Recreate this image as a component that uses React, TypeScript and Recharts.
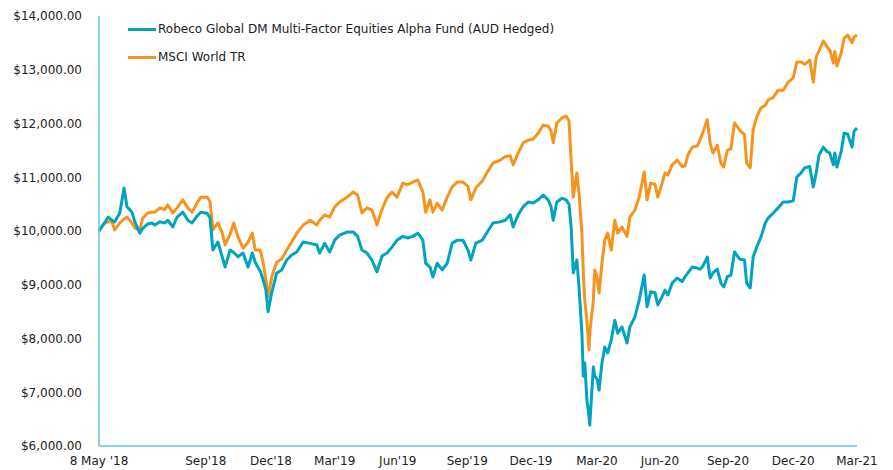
import React from 'react';
import { LineChart, Line, XAxis, YAxis, Legend } from 'recharts';

// days since 8 May 2018
const days = [
  0, 6, 13, 18, 22, 29, 35, 39, 46, 50,
  57, 61, 68, 74, 78, 85, 92, 96, 103, 109,
  117, 124, 130, 137, 142, 151, 155, 159, 166, 172,
  176, 183, 188, 194, 201, 208, 214, 218, 225, 229,
  233, 236, 241, 248, 255, 262, 269, 276, 285, 295,
  304, 308, 315, 322, 329, 336, 346, 355, 361, 367,
  374, 381, 388, 395, 402, 409, 416, 424, 431, 438,
  445, 452, 456, 462, 466, 472, 479, 486, 493, 500,
  508, 515, 519, 526, 535, 542, 550, 560, 567, 574,
  578, 585, 592, 599, 606, 613, 620, 627, 631, 634,
  639, 646, 652, 656, 659, 662, 667, 670, 674, 676,
  678, 681, 684, 685, 690, 692, 695, 698, 702, 706,
  710, 715, 720, 724, 730, 737, 741, 748, 754, 761,
  765, 770, 776, 780, 786, 790, 794, 800, 807, 814,
  818, 822, 828, 835, 839, 843, 849, 853, 857, 863,
  868, 872, 877, 882, 887, 894, 901, 904, 909, 913,
  918, 924, 930, 934, 941, 948, 955, 962, 969, 974,
  980, 985, 992, 997, 1001, 1005, 1011, 1016, 1020, 1025,
  1027, 1030, 1036, 1040, 1045, 1051, 1054, 1058,
];

const fund = [
  10000, 10120, 10260, 10200, 10170, 10335, 10800, 10450, 10350, 10170,
  9960, 10050, 10130, 10150, 10110, 10170, 10150, 10200, 10075, 10260,
  10350, 10200, 10150, 10280, 10350, 10330, 10240, 9645, 9795, 9520,
  9330, 9645, 9600, 9520, 9590, 9330, 9590, 9420, 9250, 9100,
  8900, 8500, 8850, 9220, 9275, 9460, 9555, 9610, 9795, 9770,
  9740, 9590, 9770, 9610, 9830, 9925, 9980, 9980, 9900, 9645,
  9590, 9460, 9240, 9535, 9590, 9700, 9830, 9900, 9870, 9900,
  9960, 9830, 9400, 9330, 9145, 9400, 9275, 9400, 9775, 9830,
  9830, 9645, 9460, 9775, 9830, 9980, 10150, 10170, 10200, 10300,
  10075, 10300, 10450, 10540, 10520, 10580, 10670, 10580, 10450, 10200,
  10540, 10610, 10580, 10500, 10075, 9220, 9460, 8960, 8100, 7300,
  7545, 6860, 6550, 6390, 7470, 7300, 7250, 7040, 7545, 7840,
  7730, 7975, 8340, 8100, 8215, 7915, 8215, 8400, 8715, 9180,
  8590, 8870, 8850, 8625, 8780, 8900, 8810, 9030, 9125, 9060,
  9150, 9220, 9330, 9310, 9290, 9350, 9515, 9125, 9220, 9290,
  9030, 8960, 9150, 9180, 9610, 9480, 9460, 9030, 8940, 9515,
  9700, 9890, 10150, 10240, 10335, 10430, 10540, 10540, 10560, 11005,
  11080, 11175, 11200, 10820, 11080, 11415, 11560, 11480, 11450, 11230,
  11450, 11190, 11480, 11820, 11800, 11560, 11860, 11915,
];

const msci = [
  10000, 10130, 10170, 10170, 10020, 10150, 10220, 10260, 10150, 10055,
  10020, 10240, 10335, 10350, 10350, 10430, 10400, 10485, 10335, 10430,
  10580, 10430, 10350, 10520, 10630, 10630, 10545, 10020, 10150, 9960,
  9740, 9940, 10150, 9890, 9680, 9790, 9960, 9645, 9645, 9420,
  9090, 8775, 9145, 9420, 9480, 9645, 9795, 9960, 10110, 10200,
  10110, 10200, 10300, 10260, 10450, 10540, 10630, 10725, 10670, 10335,
  10430, 10390, 10110, 10400, 10620, 10725, 10630, 10890, 10860, 10910,
  10950, 10725, 10350, 10580, 10350, 10520, 10390, 10630, 10820, 10910,
  10910, 10830, 10580, 10800, 10930, 11100, 11265, 11320, 11380, 11400,
  11230, 11450, 11640, 11690, 11710, 11820, 11970, 11950, 11860, 11640,
  12010, 12100, 12140, 12050, 11320, 10630, 11080, 10710, 9960, 9220,
  8715, 8340, 7785, 8100, 8715, 9275, 9145, 8850, 9400, 9830,
  9960, 9645, 10200, 9960, 10075, 9900, 10260, 10390, 10630, 11100,
  10580, 10890, 10870, 10630, 10890, 11080, 11040, 11230, 11320, 11200,
  11210, 11415, 11560, 11580, 11700, 11840, 12070, 11640, 11450, 11600,
  11265, 11190, 11500, 11530, 12010, 11880, 11790, 11265, 11175, 11880,
  12120, 12290, 12340, 12440, 12480, 12620, 12620, 12770, 12850, 13145,
  13145, 13100, 13180, 12770, 13240, 13350, 13535, 13430, 13370, 13125,
  13340, 13070, 13310, 13590, 13645, 13500, 13610, 13645,
];

const seriesNames = [
  'Robeco Global DM Multi-Factor Equities Alpha Fund (AUD Hedged)',
  'MSCI World TR',
];

const xTickDays = [0, 149, 240, 329, 417, 514, 603, 695, 783, 878, 969, 1058];
const xTickLabels = [
  "8 May '18", "Sep'18", "Dec'18", "Mar'19", "Jun'19", "Sep'19",
  'Dec-19', 'Mar-20', 'Jun-20', 'Sep-20', 'Dec-20', 'Mar-21',
];
const yTicks = [6000, 7000, 8000, 9000, 10000, 11000, 12000, 13000, 14000];

const TEAL = '#00A3C1';
const ORANGE = '#F7941D';
const AXIS = '#5CC8E2';
const FONT = '"DejaVu Sans", Verdana, sans-serif';

const data = days.map((d, i) => ({ day: d, fund: fund[i], msci: msci[i] }));

const fmtMoney = (v: number) =>
  '$' + v.toLocaleString('en-US', { minimumFractionDigits: 2, maximumFractionDigits: 2 });

const LegendContent = (props: any) => {
  const items = [...(props.payload || [])].sort(
    (a: any, b: any) => seriesNames.indexOf(a.value) - seriesNames.indexOf(b.value)
  );
  return (
    <div style={{ fontFamily: FONT, fontSize: 12, color: '#222' }}>
      {items.map((p: any, i: number) => (
        <div key={i} style={{ display: 'flex', alignItems: 'center', height: 28 }}>
          <span style={{ display: 'inline-block', width: 28, height: 3, background: p.color, marginRight: 2 }} />
          <span>{p.value}</span>
        </div>
      ))}
    </div>
  );
};

export default function App() {
  return (
    <div style={{ position: 'fixed', left: 0, top: 0, width: 893, height: 470, background: '#fff' }}>
      <LineChart width={893} height={470} data={data} margin={{ top: 16, right: 36, bottom: 0, left: 0 }}>
        <XAxis
          dataKey="day"
          type="number"
          domain={[0, 1058]}
          ticks={xTickDays}
          interval={0}
          tickFormatter={(v: number) => xTickLabels[xTickDays.indexOf(v)]}
          tick={{ fontSize: 12, fill: '#222', fontFamily: FONT }}
          tickLine={false}
          axisLine={{ stroke: AXIS, strokeWidth: 1.5 }}
          tickMargin={4}
          height={24}
        />
        <YAxis
          type="number"
          domain={[6000, 14000]}
          ticks={yTicks}
          interval={0}
          tickFormatter={fmtMoney}
          tick={{ fontSize: 12, fill: '#222', fontFamily: FONT }}
          tickLine={false}
          axisLine={{ stroke: AXIS, strokeWidth: 1.5 }}
          tickMargin={11}
          width={99}
        />
        <Legend
          layout="vertical"
          align="center"
          verticalAlign="middle"
          content={<LegendContent />}
          wrapperStyle={{ left: 128, top: 15, width: 'auto' }}
        />
        <Line
          type="linear"
          dataKey="msci"
          name={seriesNames[1]}
          stroke={ORANGE}
          strokeWidth={3}
          dot={false}
          strokeLinejoin="round"
          isAnimationActive={false}
          legendType="line"
        />
        <Line
          type="linear"
          dataKey="fund"
          name={seriesNames[0]}
          stroke={TEAL}
          strokeWidth={3}
          dot={false}
          strokeLinejoin="round"
          isAnimationActive={false}
          legendType="line"
        />
      </LineChart>
    </div>
  );
}
